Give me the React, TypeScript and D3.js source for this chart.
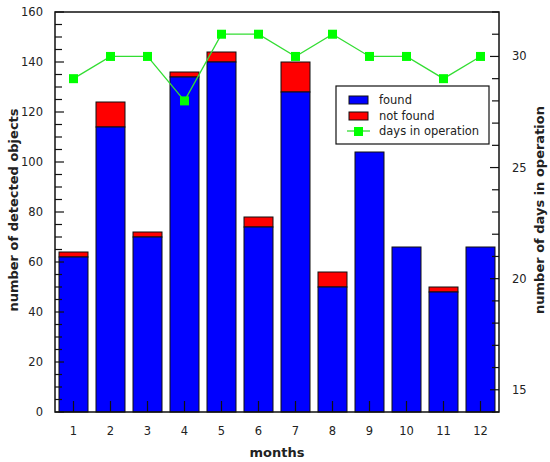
import React from "react";
import * as d3 from "d3";

const months = [1, 2, 3, 4, 5, 6, 7, 8, 9, 10, 11, 12];
const found = [62, 114, 70, 134, 140, 74, 128, 50, 104, 66, 48, 66];
const notFound = [2, 10, 2, 2, 4, 4, 12, 6, 0, 0, 2, 0];
const days = [29, 30, 30, 28, 31, 31, 30, 31, 30, 30, 29, 30];
const leftTicks = [0, 20, 40, 60, 80, 100, 120, 140, 160];
const rightTicks = [15, 20, 25, 30];

const W = 550, H = 462;
const L = 55, R = 499, T = 12, B = 412;
const font = "Tahoma, 'DejaVu Sans', 'Liberation Sans', Arial, sans-serif";

export default function App() {
  const x = d3.scaleLinear().domain([0.5, 12.5]).range([L, R]);
  const y = d3.scaleLinear().domain([0, 160]).range([B, T]);
  const y2 = d3.scaleLinear().domain([14, 32]).range([B, T]);
  const bw = 29;
  const line = d3
    .line<number>()
    .x((_, i) => x(months[i]))
    .y((d) => y2(d));
  const minorLeft = d3.range(0, 161, 5);
  const minorRight = d3.range(14, 33, 1);
  const txt = "#222";
  const fs = 11.5;
  return (
    <svg width={W} height={H} style={{ position: "absolute", left: 0, top: 0, background: "#fff" }}>
      <rect x={0} y={0} width={W} height={H} fill="#fff" />
      {/* bars */}
      {months.map((m, i) => (
        <g key={m}>
          {notFound[i] > 0 && (
            <rect
              x={x(m) - bw / 2}
              y={y(found[i] + notFound[i])}
              width={bw}
              height={y(found[i]) - y(found[i] + notFound[i])}
              fill="#ff0000"
              stroke="#111"
              strokeWidth={1}
            />
          )}
          <rect
            x={x(m) - bw / 2}
            y={y(found[i])}
            width={bw}
            height={y(0) - y(found[i])}
            fill="#0000ff"
            stroke="#111"
            strokeWidth={1}
          />
        </g>
      ))}
      {/* bottom ticks */}
      {months.map((m) => (
        <line key={"bt" + m} x1={x(m)} x2={x(m)} y1={B} y2={B - 11} stroke="#111" strokeWidth={1.2} />
      ))}
      {/* frame */}
      <rect x={L} y={T} width={R - L} height={B - T} fill="none" stroke="#111" strokeWidth={1.5} />
      {/* left ticks */}
      {minorLeft.map((v) => (
        <line key={"lt" + v} x1={L} x2={L + (v % 20 === 0 ? 9 : 7)} y1={y(v)} y2={y(v)} stroke="#111" strokeWidth={1.2} />
      ))}
      {leftTicks.map((v) => (
        <text key={"ll" + v} x={43} y={y(v)} dy="0.35em" textAnchor="end" fontSize={fs} fontFamily={font} fill={txt}>
          {v}
        </text>
      ))}
      {/* right ticks */}
      {minorRight.map((v) => (
        <line key={"rt" + v} x1={R} x2={R - (v % 5 === 0 ? 9 : 7)} y1={y2(v)} y2={y2(v)} stroke="#111" strokeWidth={1.2} />
      ))}
      {rightTicks.map((v) => (
        <text key={"rl" + v} x={512} y={y2(v)} dy="0.35em" textAnchor="start" fontSize={fs} fontFamily={font} fill={txt}>
          {v}
        </text>
      ))}
      {/* month labels */}
      {months.map((m) => (
        <text key={"ml" + m} x={x(m)} y={431} dy="0.35em" textAnchor="middle" fontSize={fs} fontFamily={font} fill={txt}>
          {m}
        </text>
      ))}
      {/* line */}
      <path d={line(days) || ""} fill="none" stroke="#33dd33" strokeWidth={1.3} />
      {days.map((d, i) => (
        <rect key={"mk" + i} x={x(months[i]) - 4.5} y={y2(d) - 4.5} width={9} height={9} fill="#00ff00" />
      ))}
      {/* axis titles */}
      <text x={277} y={452} dy="0.35em" textAnchor="middle" fontSize={13} fontWeight="bold" fontFamily={font} fill={txt}>
        months
      </text>
      <text
        transform={`translate(13,210) rotate(-90)`}
        dy="0.35em"
        textAnchor="middle"
        fontSize={13}
        fontWeight="bold"
        fontFamily={font}
        fill={txt}
      >
        number of detected objects
      </text>
      <text
        transform={`translate(539,210) rotate(-90)`}
        dy="0.35em"
        textAnchor="middle"
        fontSize={13}
        fontWeight="bold"
        fontFamily={font}
        fill={txt}
      >
        number of days in operation
      </text>
      {/* legend */}
      <g>
        <rect x={336} y={86} width={153} height={58} fill="#fff" stroke="#111" strokeWidth={1.2} />
        <rect x={349} y={96} width={19} height={8} fill="#0000ff" stroke="#111" strokeWidth={1} />
        <rect x={349} y={112} width={19} height={8} fill="#ff0000" stroke="#111" strokeWidth={1} />
        <line x1={347} x2={370} y1={131} y2={131} stroke="#33dd33" strokeWidth={1.3} />
        <rect x={354} y={127} width={9} height={9} fill="#00ff00" />
        <text x={379} y={100} dy="0.35em" fontSize={fs} fontFamily={font} fill={txt}>found</text>
        <text x={379} y={116} dy="0.35em" fontSize={fs} fontFamily={font} fill={txt}>not found</text>
        <text x={379} y={131} dy="0.35em" fontSize={fs} fontFamily={font} fill={txt}>days in operation</text>
      </g>
    </svg>
  );
}
